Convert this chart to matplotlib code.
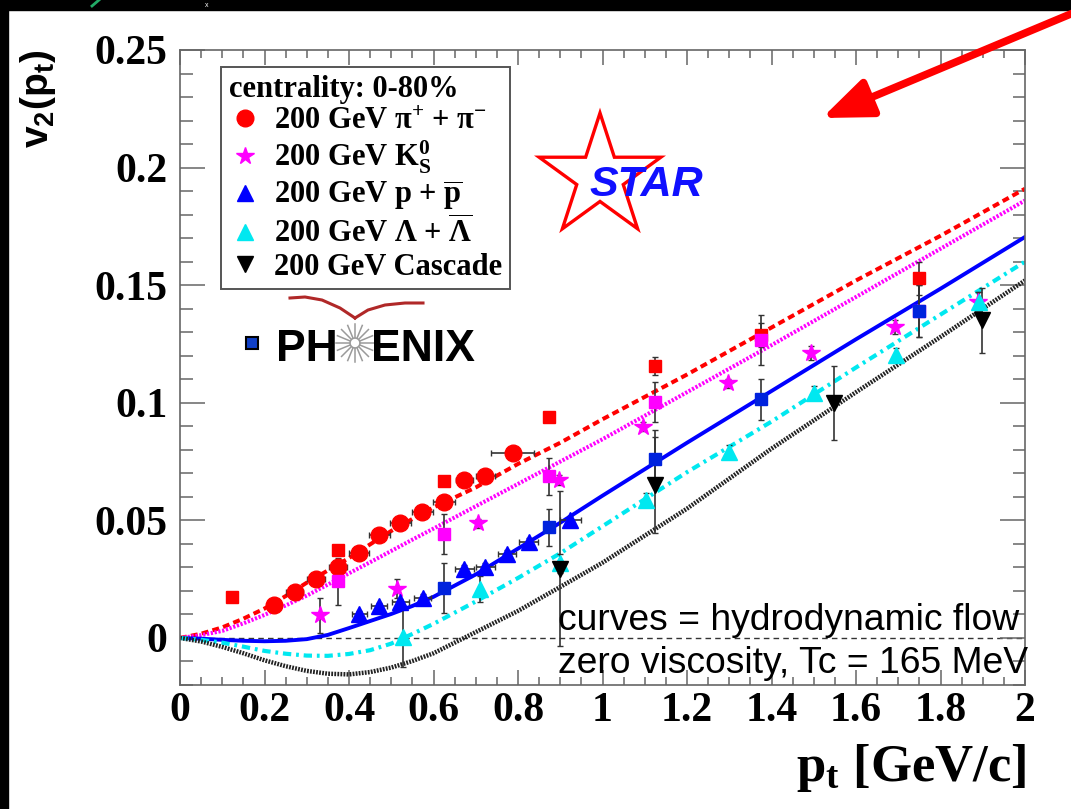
import numpy as np
import matplotlib
matplotlib.use('Agg')
import matplotlib.pyplot as plt
from matplotlib.ticker import MultipleLocator, FormatStrFormatter
from matplotlib.patches import Rectangle, Polygon, Circle
from matplotlib.font_manager import FontProperties

plt.rcParams['font.family'] = ['Liberation Serif', 'DejaVu Serif']
plt.rcParams['font.weight'] = 'bold'
plt.rcParams['mathtext.fontset'] = 'custom'
plt.rcParams['mathtext.rm'] = 'Liberation Serif:bold'
plt.rcParams['mathtext.it'] = 'Liberation Serif:italic:bold'
plt.rcParams['mathtext.bf'] = 'Liberation Serif:bold'
plt.rcParams['mathtext.sf'] = 'Liberation Sans:bold'
plt.rcParams['lines.scale_dashes'] = False

# ---- data ----
# STAR pi+ + pi- (red circles)
pi_pt = [0.223, 0.272, 0.322, 0.374, 0.424, 0.472, 0.521, 0.573, 0.624, 0.673, 0.723, 0.787]
pi_v2 = [0.0139, 0.0196, 0.0250, 0.0302, 0.0363, 0.0437, 0.0489, 0.0536, 0.0579, 0.0671, 0.0689, 0.0787]
pi_xerr = [0.016, 0.020, 0.021, 0.022, 0.023, 0.024, 0.025, 0.025, 0.026, 0.020, 0.022, 0.051]
pi_err = [0.0010, 0.0010, 0.0010, 0.0012, 0.0012, 0.0012, 0.0012, 0.0014, 0.0014, 0.0015, 0.0015, 0.0018]
# PHENIX pions (red squares)
phx_pi_pt = [0.1225, 0.375, 0.624, 0.873, 1.125, 1.374, 1.75]
phx_pi_v2 = [0.0174, 0.0373, 0.0667, 0.0938, 0.1156, 0.1288, 0.153]
phx_pi_err = [0.001, 0.0015, 0.0015, 0.002, 0.004, 0.005, 0.007]
# PHENIX kaons (magenta squares)
phx_k_pt = [0.374, 0.624, 0.873, 1.125, 1.374, 1.75]
phx_k_v2 = [0.0241, 0.0441, 0.0688, 0.1002, 0.1267, 0.139]
phx_k_err = [0.010, 0.0085, 0.0078, 0.0085, 0.0106, 0.011]
# STAR K0s (magenta stars)
k0_pt = [0.332, 0.513, 0.705, 0.896, 1.096, 1.296, 1.493, 1.693, 1.888]
k0_v2 = [0.0097, 0.021, 0.0487, 0.0671, 0.0898, 0.1083, 0.121, 0.1323, 0.143]
k0_err = [0.0074, 0.004, 0.002, 0.002, 0.002, 0.002, 0.003, 0.003, 0.004]
# STAR p + pbar (blue triangles)
p_pt = [0.424, 0.472, 0.521, 0.575, 0.673, 0.723, 0.774, 0.825, 0.924]
p_v2 = [0.0104, 0.0135, 0.0153, 0.0172, 0.0295, 0.0302, 0.0359, 0.0409, 0.050]
p_xerr = [0.018, 0.019, 0.020, 0.020, 0.022, 0.022, 0.022, 0.023, 0.024]
p_err = [0.0012, 0.0012, 0.0013, 0.0013, 0.0015, 0.0015, 0.0016, 0.0017, 0.0018]
# PHENIX protons (blue squares)
phx_p_pt = [0.624, 0.873, 1.125, 1.374, 1.75]
phx_p_v2 = [0.0214, 0.047, 0.0763, 0.1014, 0.139]
phx_p_err = [0.0106, 0.0078, 0.012, 0.0087, 0.011]
# STAR Lambda (cyan triangles)
lam_pt = [0.527, 0.711, 0.9, 1.102, 1.299, 1.50, 1.694, 1.892]
lam_v2 = [0.0005, 0.021, 0.0317, 0.0586, 0.0792, 0.104, 0.1203, 0.143]
lam_err = [0.013, 0.0055, 0.004, 0.003, 0.003, 0.003, 0.003, 0.004]
# STAR Cascade (black down triangles)
xi_pt = [0.9, 1.125, 1.548, 1.899]
xi_v2 = [0.0295, 0.065, 0.100, 0.135]
xi_err = [0.033, 0.0205, 0.0158, 0.0138]

# hydro curves (zero viscosity, Tc = 165 MeV)
hydro_pt = [0, 0.05, 0.1, 0.15, 0.2, 0.25, 0.3, 0.35, 0.4, 0.45, 0.5, 0.55, 0.6, 0.7, 0.8, 0.9,
            1.0, 1.2, 1.4, 1.6, 1.8, 2.0]
hydro_pi = [0, 0.0018, 0.0045, 0.0082, 0.0125, 0.0178, 0.0235, 0.0287, 0.034, 0.0398, 0.0455,
            0.0506, 0.0555, 0.064, 0.074, 0.083, 0.093, 0.112, 0.132, 0.152, 0.171, 0.191]
hydro_k = [0, 0.0012, 0.003, 0.0062, 0.0098, 0.0138, 0.018, 0.0227, 0.0275, 0.0322, 0.037,
           0.0418, 0.0465, 0.056, 0.0655, 0.075, 0.0845, 0.1045, 0.1245, 0.145, 0.1655, 0.186]
hydro_p = [0, -0.0003, -0.0008, -0.0012, -0.0014, -0.0012, -0.0005, 0.0013, 0.0042, 0.0072,
           0.0102, 0.0136, 0.0175, 0.027, 0.038, 0.049, 0.0605, 0.083, 0.105, 0.127, 0.1485, 0.1705]
hydro_lam = [0, -0.0008, -0.002, -0.0037, -0.0055, -0.0067, -0.0075, -0.0076, -0.0068, -0.0052,
             -0.0024, 0.0017, 0.006, 0.0155, 0.0255, 0.036, 0.0475, 0.0705, 0.092, 0.115, 0.1375, 0.160]
hydro_xi = [0, -0.0015, -0.0038, -0.0065, -0.0095, -0.012, -0.014, -0.0152, -0.0155, -0.0145,
            -0.0126, -0.0098, -0.0065, 0.0025, 0.0115, 0.0217, 0.032, 0.055, 0.0805, 0.1045, 0.128, 0.152]

W, H = 1071, 809
fig = plt.figure(figsize=(W / 100, H / 100), dpi=100)
fig.patch.set_facecolor('white')
ax = fig.add_axes([180 / W, 1 - 685 / H, 845 / W, 635 / H])

# curves
ax.plot(hydro_pt, hydro_pi, color='#ff0000', lw=2.9, ls=(0, (5, 3)), zorder=2)
ax.plot(hydro_pt, hydro_k, color='#ff00ff', lw=2.9, ls=(0, (1.6, 1.2)), zorder=2)
ax.plot(hydro_pt, hydro_p, color='#0000ff', lw=2.8, zorder=2)
ax.plot(hydro_pt, hydro_lam, color='#00e8f0', lw=3.0, ls=(0, (6, 3.5, 2, 3.5)), zorder=2)
ax.plot(hydro_pt, hydro_xi, color='#222222', lw=3.2, ls=(0, (1.3, 0.9)), zorder=2)
ax.axhline(0, color='#333333', lw=1.0, ls=(0, (4, 3)), zorder=1)

eb = dict(ecolor='#333333', elinewidth=1.2, capsize=2.2, capthick=1.0, ls='none', zorder=3)
h_pi = ax.errorbar(pi_pt, pi_v2, yerr=pi_err, xerr=pi_xerr, marker='o', ms=12,
                   color='#ff0000', mec='#ff0000', **eb)
ax.errorbar(phx_pi_pt, phx_pi_v2, yerr=phx_pi_err, marker='s', ms=8.5, color='#ff0000', **eb)
ax.errorbar(phx_k_pt, phx_k_v2, yerr=phx_k_err, marker='s', ms=8.5, color='#ff00ff', **eb)
h_k0 = ax.errorbar(k0_pt, k0_v2, yerr=k0_err, marker='*', ms=13, color='#ff00ff', **eb)
h_p = ax.errorbar(p_pt, p_v2, yerr=p_err, xerr=p_xerr, marker='^', ms=11, color='#0000ff', **eb)
ax.errorbar(phx_p_pt, phx_p_v2, yerr=phx_p_err, marker='s', ms=8.5, color='#0022dd', **eb)
h_lam = ax.errorbar(lam_pt, lam_v2, yerr=lam_err, marker='^', ms=11, color='#00e8f0', **eb)
h_xi = ax.errorbar(xi_pt, xi_v2, yerr=xi_err, marker='v', ms=11, color='#000000', **eb)

ax.set_xlim(0, 2)
ax.set_ylim(-0.02, 0.25)
ax.xaxis.set_major_locator(MultipleLocator(0.2))
ax.xaxis.set_minor_locator(MultipleLocator(0.05))
ax.yaxis.set_major_locator(MultipleLocator(0.05))
ax.yaxis.set_minor_locator(MultipleLocator(0.01))
ax.xaxis.set_major_formatter(FormatStrFormatter('%g'))
ax.yaxis.set_major_formatter(FormatStrFormatter('%g'))
ax.tick_params(which='both', direction='in', top=True, right=True, color='#666666',
               width=1.1, labelsize=30)
ax.tick_params(axis='x', which='major', length=11, pad=5)
ax.tick_params(axis='x', which='minor', length=5.5)
ax.tick_params(axis='y', which='major', length=18, pad=9)
ax.tick_params(axis='y', which='minor', length=9)
for s in ax.spines.values():
    s.set_color('#666666')
    s.set_linewidth(1.2)

fp = FontProperties(family='Liberation Serif', weight='bold', size=22)
labels = [r'200 GeV $\mathrm{\pi}^{+}$ + $\mathrm{\pi}^{-}$',
          r'200 GeV K$^{0}_{\mathrm{S}}$',
          r'200 GeV p + $\overline{\mathrm{p}}$',
          r'200 GeV $\Lambda$ + $\overline{\Lambda}$',
          '200 GeV Cascade']
leg = ax.legend([h_pi[0], h_k0[0], h_p[0], h_lam[0], h_xi[0]], labels,
                loc='upper left', bbox_to_anchor=((221 - 180) / 845, (685 - 67) / 635),
                title='centrality: 0-80%', prop=fp, title_fontproperties=fp,
                alignment='left', frameon=True, fancybox=False, framealpha=1,
                edgecolor='#555555', borderpad=0.25, labelspacing=0.1,
                handlelength=1.1, handletextpad=0.4, borderaxespad=0)
leg.get_frame().set_linewidth(1.4)

# overlay in pixel coordinates for logos and slide decorations
ov = fig.add_axes([0, 0, 1, 1])
ov.set_xlim(0, W)
ov.set_ylim(H, 0)
ov.axis('off')
ov.set_zorder(5)
ov.add_patch(Rectangle((0, 0), 8, H, color='black'))
ov.add_patch(Rectangle((0, 0), W, 10, color='black'))
ov.text(207, 5, 'x', color='white', fontsize=5, family='Liberation Sans',
        weight='normal', ha='center', va='center')
ov.plot([92, 99], [6, 0], color='#22aa66', lw=2)

# STAR logo
cx, cy, R = 600, 177, 64
ang = np.deg2rad(-90 + 36 * np.arange(10))
rad = np.where(np.arange(10) % 2 == 0, R, R * 0.382)
ov.add_patch(Polygon(np.c_[cx + rad * np.cos(ang), cy + rad * np.sin(ang)],
                     closed=True, fill=False, edgecolor='#ff0000', lw=2.4))
ov.text(646, 196, 'STAR', color='#1010ff', fontsize=31, family='Liberation Sans',
        style='italic', weight='bold', ha='center', va='baseline')

# PHENIX logo
ov.plot([290, 305, 322, 340, 355], [298, 297, 300, 308, 318], color='#b02828', lw=2.2)
ov.plot([355, 368, 385, 405, 423], [318, 310, 305, 303, 303], color='#b02828', lw=2.2)
ov.plot([252], [343], marker='s', ms=8, mfc='#1040c8', mec='black', mew=1.5)
ov.text(338, 361, 'PH', fontsize=32, family='Liberation Sans', weight='bold',
        ha='right', va='baseline')
ov.text(371, 361, 'ENIX', fontsize=32, family='Liberation Sans', weight='bold',
        ha='left', va='baseline')
sa = np.deg2rad(np.arange(0, 360, 22.5))
for a in sa:
    ov.plot([355 + 5 * np.cos(a), 355 + 19 * np.cos(a)],
            [343 + 5 * np.sin(a), 343 + 19 * np.sin(a)], color='#9a9a9a', lw=1.1)
ov.add_patch(Circle((355, 343), 5, fill=False, edgecolor='#9a9a9a', lw=1.0))

# axis titles
ov.text(38, 50, r'$\mathsf{v_2(p_t)}$', rotation=90, ha='center', va='top', fontsize=28)
ov.text(1026, 781, r'p$_\mathrm{t}$ [GeV/c]', ha='right', va='baseline', fontsize=38,
        family='Liberation Serif', weight='bold')

# annotation
ov.text(558, 630, 'curves = hydrodynamic flow', fontsize=26.8, family='Liberation Sans',
        weight='normal', va='baseline')
ov.text(558, 673, 'zero viscosity, Tc = 165 MeV', fontsize=26.8, family='Liberation Sans',
        weight='normal', va='baseline')

# red arrow
ov.annotate('', xy=(822, 118), xytext=(1085, 8),
            arrowprops=dict(arrowstyle='-|>,head_length=1.5,head_width=0.6',
                            color='#ff0000', lw=5.5, shrinkA=0, shrinkB=0,
                            mutation_scale=20))

fig.savefig('out.png', dpi=100)
